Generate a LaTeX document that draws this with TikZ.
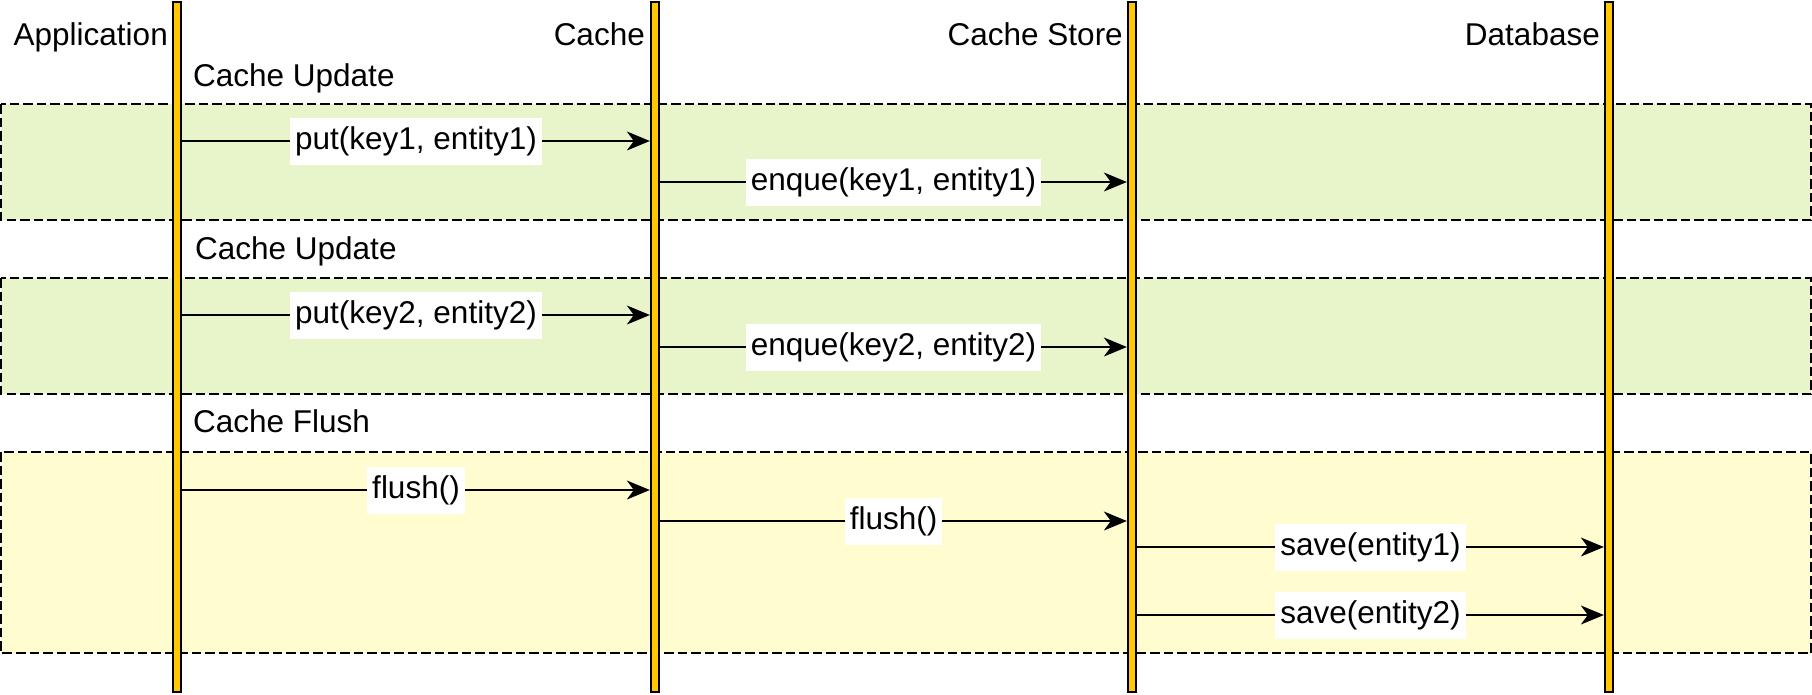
\documentclass[tikz,border=0pt]{standalone}
\usepackage{fontspec}
\setmainfont{Liberation Sans}
\usetikzlibrary{arrows.meta}
\definecolor{lifeyellow}{HTML}{FFC800}
\definecolor{updgreen}{HTML}{E8F4C9}
\definecolor{flushyellow}{HTML}{FFFDD0}
\tikzset{
  every node/.style={font=\fontsize{31.5pt}{38pt}\selectfont, inner sep=0pt},
  lifeline/.style={draw=black, line width=1.7pt, fill=lifeyellow, minimum width=8.6pt, minimum height=690.5pt, inner sep=0pt},
  groupbox/.style={draw=black, line width=2.2pt, dash pattern=on 9.5pt off 4pt},
  msg/.style={line width=1.6pt, -{Stealth[length=23pt, width=19pt, inset=7pt]}},
  lbl/.style={fill=white, inner xsep=5pt, inner ysep=8.5pt, text height=23pt, text depth=7pt},
  head/.style={anchor=base east},
  sect/.style={anchor=base west},
}
\begin{document}
\begin{tikzpicture}[x=1pt, y=-1pt]
\useasboundingbox (0,0) rectangle (1812,694);
% group boxes
\draw[groupbox, fill=updgreen] (1,104) rectangle (1811,220);
\draw[groupbox, fill=updgreen] (1,278) rectangle (1811,394);
\draw[groupbox, fill=flushyellow] (1,452) rectangle (1811,653);
% lifelines
\node[lifeline] (app) at (177,347) {};
\node[lifeline] (cache) at (655,347) {};
\node[lifeline] (store) at (1132,347) {};
\node[lifeline] (db) at (1609,347) {};
% headers
\node[head] (happ) at (168,45) {Application};
\node[head] (hcache) at (645,45) {Cache};
\node[head] (hstore) at (1123,45) {Cache Store};
\node[head] (hdb) at (1600,45) {Database};
% section labels
\node[sect] (s1) at (193,86) {Cache Update};
\node[sect] (s2) at (195,259) {Cache Update};
\node[sect] (s3) at (193,432) {Cache Flush};
% message levels
\coordinate (y1) at (0,141);
\coordinate (y2) at (0,182);
\coordinate (y3) at (0,315);
\coordinate (y4) at (0,347);
\coordinate (y5) at (0,490);
\coordinate (y6) at (0,521);
\coordinate (y7) at (0,547);
\coordinate (y8) at (0,615);
% messages
\draw[msg] (app.east |- y1) -- node[lbl] (m1) {put(key1, entity1)} (cache.west |- y1);
\draw[msg] (cache.east |- y2) -- node[lbl] (m2) {enque(key1, entity1)} (store.west |- y2);
\draw[msg] (app.east |- y3) -- node[lbl] (m3) {put(key2, entity2)} (cache.west |- y3);
\draw[msg] (cache.east |- y4) -- node[lbl] (m4) {enque(key2, entity2)} (store.west |- y4);
\draw[msg] (app.east |- y5) -- node[lbl] (m5) {flush()} (cache.west |- y5);
\draw[msg] (cache.east |- y6) -- node[lbl] (m6) {flush()} (store.west |- y6);
\draw[msg] (store.east |- y7) -- node[lbl] (m7) {save(entity1)} (db.west |- y7);
\draw[msg] (store.east |- y8) -- node[lbl] (m8) {save(entity2)} (db.west |- y8);
\end{tikzpicture}
\end{document}
